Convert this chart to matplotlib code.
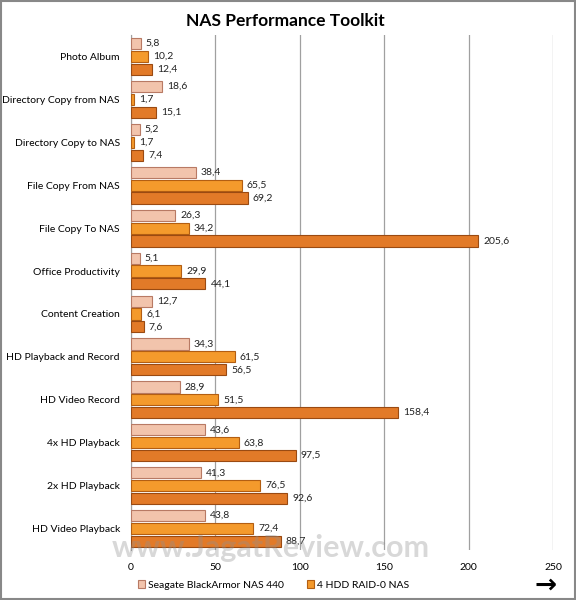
import matplotlib.pyplot as plt
import numpy as np

plt.rcParams['font.family'] = ['Lato', 'DejaVu Sans']

categories = ['Photo Album', 'Directory Copy from NAS', 'Directory Copy to NAS',
              'File Copy From NAS', 'File Copy To NAS', 'Office Productivity',
              'Content Creation', 'HD Playback and Record', 'HD Video Record',
              '4x HD Playback', '2x HD Playback', 'HD Video Playback']
seagate = [5.8, 18.6, 5.2, 38.4, 26.3, 5.1, 12.7, 34.3, 28.9, 43.6, 41.3, 43.8]
raid0_a = [10.2, 1.7, 1.7, 65.5, 34.2, 29.9, 6.1, 61.5, 51.5, 63.8, 76.5, 72.4]
raid0_b = [12.4, 15.1, 7.4, 69.2, 205.6, 44.1, 7.6, 56.5, 158.4, 97.5, 92.6, 88.7]

fig = plt.figure(figsize=(5.76, 6), dpi=100)
ax = fig.add_axes([0.2274, 0.0833, 0.7326, 0.8584])

y = np.arange(len(categories))
h = 0.26
step = 0.30

series = [
    (seagate, -step, '#F2C4AC', '#B87A64', 'Seagate BlackArmor NAS 440'),
    (raid0_a, 0.0, '#F49A2C', '#B35E12', '4 HDD RAID-0 NAS'),
    (raid0_b, step, '#E27A28', '#9A4A12', None),
]
for vals, off, fc, ec, lab in series:
    bars = ax.barh(y + off, vals, height=h, color=fc, edgecolor=ec,
                   linewidth=0.8, label=lab, zorder=3)
    for b, v in zip(bars, vals):
        ax.text(b.get_width() + 3, b.get_y() + b.get_height() / 2,
                f'{v:.1f}'.replace('.', ','), va='center', ha='left',
                fontsize=7.5, color='#222222', zorder=4)

ax.set_ylim(len(categories) - 0.5, -0.5)
ax.set_xlim(0, 250)
ax.set_xticks(range(0, 251, 50))
ax.set_yticks(y)
ax.set_yticklabels(categories, fontsize=7.5)
ax.tick_params(axis='x', labelsize=7.5, length=0, pad=9)
ax.tick_params(axis='y', length=0, pad=8)
ax.grid(axis='x', color='#A0A0A0', linewidth=0.9, zorder=0)
for s in ['top', 'right', 'bottom']:
    ax.spines[s].set_visible(False)
ax.spines['left'].set_color('#A0A0A0')

fig.text(0.495, 0.965, 'NAS Performance Toolkit', fontsize=12.5,
         fontweight='bold', ha='center', va='center')

handles, labels = ax.get_legend_handles_labels()
fig.legend(handles, labels, loc='center', bbox_to_anchor=(0.475, 0.025), ncol=2,
           frameon=False, fontsize=7.5, handlelength=0.7, handleheight=0.7,
           columnspacing=2.2, handletextpad=0.3)

# watermark
fig.text(0.47, 0.087, 'www.JagatReview.com', fontsize=22, color='#909090',
         alpha=0.35, ha='center', va='center', fontweight='bold')
fig.text(0.948, 0.024, '\u2192', fontsize=19, fontweight='bold',
         ha='center', va='center', family='DejaVu Sans')

fig.patches.append(plt.Rectangle((0.001, 0.001), 0.997, 0.997, transform=fig.transFigure,
                                 fill=False, edgecolor='#888888', linewidth=1.5))

fig.savefig('out.png', dpi=100)
